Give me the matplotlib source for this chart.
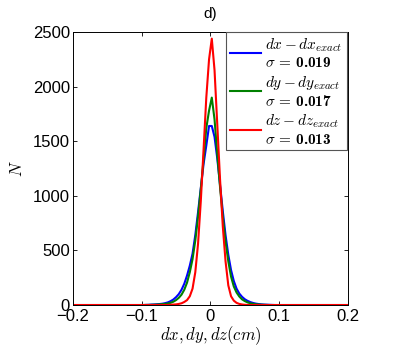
import matplotlib
matplotlib.use("Agg")
import matplotlib.pyplot as plt

plt.rcParams.update({
    "font.family": ["Liberation Sans", "DejaVu Sans"],
    "mathtext.fontset": "custom",
    "mathtext.rm": "cmr10",
    "mathtext.it": "cmmi10",
    "mathtext.bf": "cmb10",
    "mathtext.fallback": "cm",
    "axes.unicode_minus": True,
    "xtick.direction": "in",
    "ytick.direction": "in",
    "xtick.top": True,
    "ytick.right": True,
})

# bin centres (cm) and counts
dx_centres = [-0.2, -0.098, -0.094, -0.090, -0.086, -0.082, -0.078, -0.074, -0.070,
              -0.066, -0.062, -0.058, -0.054, -0.050, -0.046, -0.042, -0.038, -0.034,
              -0.030, -0.026, -0.022, -0.018, -0.014, -0.010, -0.006, -0.002, 0.002,
              0.006, 0.010, 0.014, 0.018, 0.022, 0.026, 0.030, 0.034, 0.038, 0.042,
              0.046, 0.050, 0.054, 0.058, 0.062, 0.066, 0.070, 0.074, 0.078, 0.082,
              0.086, 0.090, 0.094, 0.098, 0.2]

n_dx = [0, 0, 1, 2, 4, 5, 7, 9, 12,
        17, 24, 35, 50, 72, 100, 140, 195, 270,
        360, 470, 640, 850, 1070, 1290, 1460, 1640, 1640,
        1540, 1340, 1100, 860, 640, 460, 320, 220, 150, 105,
        75, 53, 38, 27, 19, 13, 9, 6, 4, 3,
        2, 1, 0, 0, 0]

n_dy = [0, 0, 1, 1, 2, 3, 4, 6, 8,
        10, 14, 20, 30, 45, 66, 95, 140, 205,
        300, 420, 590, 810, 1060, 1330, 1620, 1780, 1900,
        1700, 1380, 1080, 810, 580, 400, 260, 170, 115, 78,
        52, 36, 24, 16, 11, 7, 5, 3, 2, 1,
        0, 0, 0, 0, 0]

n_dz = [0, 0, 0, 0, 0, 0, 0, 0, 0,
        0, 0, 2, 4, 6, 10, 16, 28, 45,
        80, 150, 300, 560, 950, 1420, 1900, 2250, 2440,
        2150, 1650, 1150, 720, 400, 180, 80, 40, 20, 10,
        5, 2, 0, 0, 0, 0, 0, 0, 0, 0,
        0, 0, 0, 0, 0]

labels = [r"$dx - dx_{exact}$" + "\n" + r"$\sigma\,=\,\mathbf{0.019}$",
          r"$dy - dy_{exact}$" + "\n" + r"$\sigma\,=\,\mathbf{0.017}$",
          r"$dz - dz_{exact}$" + "\n" + r"$\sigma\,=\,\mathbf{0.013}$"]
colors = ["#0000ff", "#008000", "#ff0000"]

fig = plt.figure(figsize=(4.07, 3.49), dpi=100)
ax = fig.add_axes([0.179, 0.126, 0.676, 0.782])

for n, c, lab in zip([n_dx, n_dy, n_dz], colors, labels):
    ax.plot(dx_centres, n, color=c, linewidth=1.5, label=lab)

ax.set_xlim(-0.2, 0.2)
ax.set_ylim(0, 2500)
ax.set_xticks([-0.2, -0.1, 0, 0.1, 0.2])
ax.set_xticklabels(["\u22120.2", "\u22120.1", "0", "0.1", "0.2"])
ax.set_yticks([0, 500, 1000, 1500, 2000, 2500])
ax.tick_params(labelsize=12, length=3, width=0.6, pad=2)
ax.tick_params(axis="x", pad=3)
for s in ax.spines.values():
    s.set_linewidth(0.7)

ax.set_xlabel(r"$dx, dy, dz (cm)$", fontsize=12, labelpad=0)
ax.set_ylabel(r"$N$", fontsize=12, labelpad=6)
ax.set_title("d)", fontsize=11, pad=10)

leg = ax.legend(loc="upper right", fontsize=11, fancybox=False, framealpha=1,
                edgecolor="#555555", borderaxespad=0, handlelength=2.0,
                handletextpad=0.3, labelspacing=0.25, borderpad=0.25,
                bbox_to_anchor=(0.995, 1.0))
leg.get_frame().set_linewidth(0.8)

fig.savefig("out.png", dpi=100)
